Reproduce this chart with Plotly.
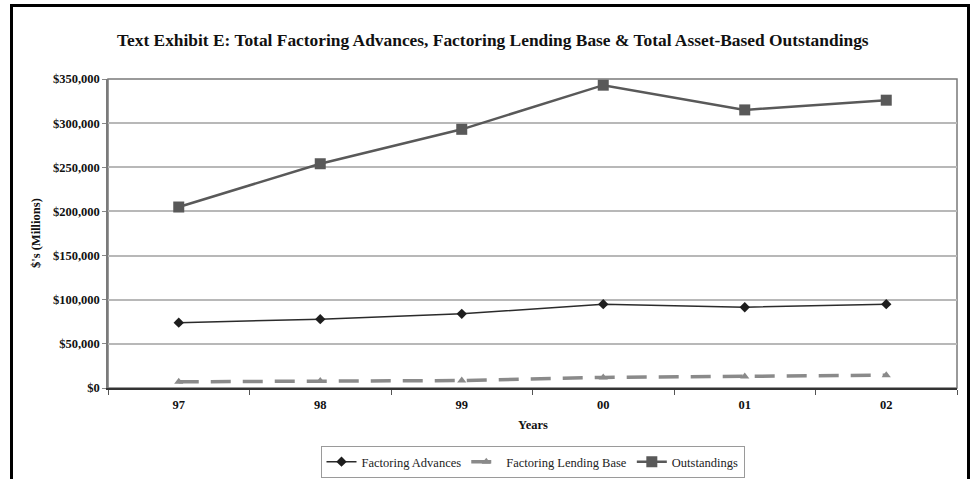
import plotly.graph_objects as go

years = ["97", "98", "99", "00", "01", "02"]
factoring_advances = [74000, 78000, 84000, 95000, 91500, 95000]
lending_base = [7000, 8000, 8500, 12000, 13000, 14500]
outstandings = [205000, 254000, 293000, 343000, 315000, 326000]
y_ticks = [0, 50000, 100000, 150000, 200000, 250000, 300000, 350000]
y_labels = ["$0", "$50,000", "$100,000", "$150,000", "$200,000",
            "$250,000", "$300,000", "$350,000"]

W, H = 979, 479
L, R, T, B = 108, 957, 79, 388  # plot area in pixels


def px(x):
    return (x - L) / (R - L)


def py(y):
    return (B - y) / (B - T)


serif = "Liberation Serif, Times New Roman, serif"

fig = go.Figure()
fig.add_trace(go.Scatter(
    x=years, y=factoring_advances, name="Factoring Advances",
    mode="lines+markers",
    line=dict(color="#2b2b2b", width=1.5),
    marker=dict(symbol="diamond", size=8, color="#1e1e1e"),
))
fig.add_trace(go.Scatter(
    x=years, y=lending_base, name="Factoring Lending Base",
    mode="lines+markers",
    line=dict(color="#8a8a8a", width=3.5, dash="20px,12px"),
    marker=dict(symbol="triangle-up", size=8, color="#8a8a8a"),
))
fig.add_trace(go.Scatter(
    x=years, y=outstandings, name="Outstandings",
    mode="lines+markers",
    line=dict(color="#595959", width=2.5),
    marker=dict(symbol="square", size=11, color="#595959"),
))

fig.update_layout(
    width=W, height=H,
    margin=dict(l=L, r=W - R, t=T, b=H - B, autoexpand=False),
    paper_bgcolor="white", plot_bgcolor="white",
    font=dict(family=serif, color="#111111", size=11),
    showlegend=True,
    legend=dict(
        orientation="h", x=0.5, xanchor="center",
        y=py(462), yanchor="middle",
        bordercolor="#9a9a9a", borderwidth=1,
        font=dict(family=serif, size=12.5, color="#222222"),
        tracegroupgap=0,
    ),
    xaxis=dict(
        type="category", range=[-0.5, 5.5],
        showgrid=False, tickson="boundaries",
        ticks="outside", ticklen=5, tickcolor="#555555",
        showline=True, linecolor="#333333", linewidth=1.5,
        mirror=False, ticklabelstandoff=4,
        tickfont=dict(family=serif, size=12.5, color="#111111", weight="bold"),
    ),
    yaxis=dict(
        range=[0, 350000], tickvals=y_ticks, ticktext=y_labels,
        showgrid=True, gridcolor="#b8b8b8", gridwidth=1.5,
        ticks="outside", ticklen=4, tickcolor="#888888",
        showline=True, linecolor="#7a7a7a", linewidth=1.5,
        zeroline=False,
        tickfont=dict(family=serif, size=12.5, color="#111111", weight="bold"),
    ),
    shapes=[
        # plot-area border (top and right)
        dict(type="rect", xref="paper", yref="paper", x0=0, x1=1, y0=0, y1=1,
             line=dict(color="#7a7a7a", width=1.5), layer="below"),
        # outer frame
        dict(type="rect", xref="paper", yref="paper",
             x0=px(11.5), x1=px(968.5), y0=py(495), y1=py(5.5),
             line=dict(color="black", width=3)),
    ],
    annotations=[
        dict(text="<b>Text Exhibit E: Total Factoring Advances, Factoring Lending Base &amp; Total Asset-Based Outstandings</b>",
             xref="paper", yref="paper", x=px(493), y=py(40),
             xanchor="center", yanchor="middle", showarrow=False,
             font=dict(family=serif, size=17.4, color="#111111")),
        dict(text="<b>$'s (Millions)</b>", textangle=-90,
             xref="paper", yref="paper", x=px(36), y=py(233),
             xanchor="center", yanchor="middle", showarrow=False,
             font=dict(family=serif, size=12.5, color="#111111")),
        dict(text="<b>Years</b>",
             xref="paper", yref="paper", x=0.5, y=py(425),
             xanchor="center", yanchor="middle", showarrow=False,
             font=dict(family=serif, size=12.5, color="#111111")),
    ],
)

fig.write_html("out.html")
